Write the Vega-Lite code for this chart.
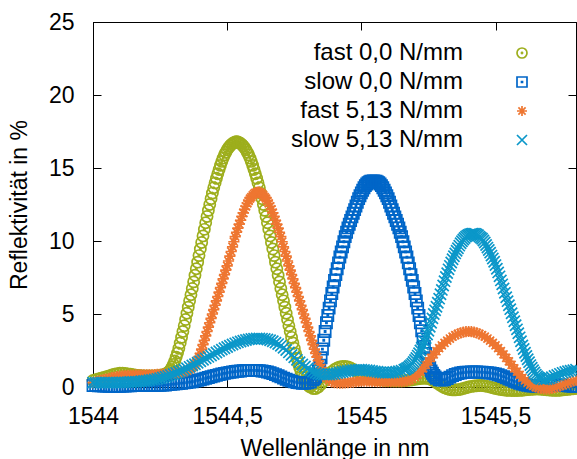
{
"$schema": "https://vega.github.io/schema/vega-lite/v6.json",
"width": 483, "height": 365,
"autosize": {"type": "none"},
"padding": {"left": 93, "top": 22, "right": 1, "bottom": 72},
"datasets": {
"fast0": [
{"x":1544.00,"y":0.45},{"x":1544.01,"y":0.5},{"x":1544.02,"y":0.55},{"x":1544.03,"y":0.6},{"x":1544.04,"y":0.65},{"x":1544.05,"y":0.7},{"x":1544.06,"y":0.76},{"x":1544.07,"y":0.82},{"x":1544.08,"y":0.87},{"x":1544.09,"y":0.91},
{"x":1544.10,"y":0.94},{"x":1544.11,"y":0.95},{"x":1544.12,"y":0.93},{"x":1544.13,"y":0.9},{"x":1544.14,"y":0.87},{"x":1544.15,"y":0.84},{"x":1544.16,"y":0.81},{"x":1544.17,"y":0.79},{"x":1544.18,"y":0.77},{"x":1544.19,"y":0.76},
{"x":1544.20,"y":0.75},{"x":1544.21,"y":0.75},{"x":1544.22,"y":0.75},{"x":1544.23,"y":0.76},{"x":1544.24,"y":0.77},{"x":1544.25,"y":0.8},{"x":1544.26,"y":0.84},{"x":1544.27,"y":0.9},{"x":1544.28,"y":1.0},{"x":1544.29,"y":1.2},
{"x":1544.30,"y":1.55},{"x":1544.31,"y":2.05},{"x":1544.32,"y":2.65},{"x":1544.33,"y":3.4},{"x":1544.34,"y":4.2},{"x":1544.35,"y":5.05},{"x":1544.36,"y":5.9},{"x":1544.37,"y":6.75},{"x":1544.38,"y":7.65},{"x":1544.39,"y":8.55},
{"x":1544.40,"y":9.45},{"x":1544.41,"y":10.35},{"x":1544.42,"y":11.25},{"x":1544.43,"y":12.1},{"x":1544.44,"y":12.9},{"x":1544.45,"y":13.65},{"x":1544.46,"y":14.3},{"x":1544.47,"y":14.9},{"x":1544.48,"y":15.45},{"x":1544.49,"y":15.9},
{"x":1544.50,"y":16.25},{"x":1544.51,"y":16.5},{"x":1544.52,"y":16.68},{"x":1544.53,"y":16.78},{"x":1544.54,"y":16.78},{"x":1544.55,"y":16.68},{"x":1544.56,"y":16.5},{"x":1544.57,"y":16.25},{"x":1544.58,"y":15.9},{"x":1544.59,"y":15.45},
{"x":1544.60,"y":14.9},{"x":1544.61,"y":14.3},{"x":1544.62,"y":13.65},{"x":1544.63,"y":12.9},{"x":1544.64,"y":12.1},{"x":1544.65,"y":11.25},{"x":1544.66,"y":10.35},{"x":1544.67,"y":9.45},{"x":1544.68,"y":8.55},{"x":1544.69,"y":7.65},
{"x":1544.70,"y":6.75},{"x":1544.71,"y":5.9},{"x":1544.72,"y":5.05},{"x":1544.73,"y":4.2},{"x":1544.74,"y":3.4},{"x":1544.75,"y":2.65},{"x":1544.76,"y":1.95},{"x":1544.77,"y":1.35},{"x":1544.78,"y":0.85},{"x":1544.79,"y":0.45},
{"x":1544.80,"y":0.15},{"x":1544.81,"y":0.0},{"x":1544.82,"y":-0.1},{"x":1544.83,"y":-0.1},{"x":1544.84,"y":0.0},{"x":1544.85,"y":0.2},{"x":1544.86,"y":0.4},{"x":1544.87,"y":0.65},{"x":1544.88,"y":0.85},{"x":1544.89,"y":1.05},
{"x":1544.90,"y":1.2},{"x":1544.91,"y":1.3},{"x":1544.92,"y":1.38},{"x":1544.93,"y":1.4},{"x":1544.94,"y":1.4},{"x":1544.95,"y":1.38},{"x":1544.96,"y":1.3},{"x":1544.97,"y":1.2},{"x":1544.98,"y":1.1},{"x":1544.99,"y":1.0},
{"x":1545.00,"y":0.9},{"x":1545.01,"y":0.8},{"x":1545.02,"y":0.72},{"x":1545.03,"y":0.65},{"x":1545.04,"y":0.6},{"x":1545.05,"y":0.56},{"x":1545.06,"y":0.52},{"x":1545.07,"y":0.49},{"x":1545.08,"y":0.47},{"x":1545.09,"y":0.45},
{"x":1545.10,"y":0.44},{"x":1545.11,"y":0.43},{"x":1545.12,"y":0.42},{"x":1545.13,"y":0.42},{"x":1545.14,"y":0.42},{"x":1545.15,"y":0.42},{"x":1545.16,"y":0.43},{"x":1545.17,"y":0.45},{"x":1545.18,"y":0.47},{"x":1545.19,"y":0.5},
{"x":1545.20,"y":0.53},{"x":1545.21,"y":0.56},{"x":1545.22,"y":0.58},{"x":1545.23,"y":0.6},{"x":1545.24,"y":0.6},{"x":1545.25,"y":0.58},{"x":1545.26,"y":0.52},{"x":1545.27,"y":0.42},{"x":1545.28,"y":0.3},{"x":1545.29,"y":0.18},
{"x":1545.30,"y":0.05},{"x":1545.31,"y":-0.05},{"x":1545.32,"y":-0.12},{"x":1545.33,"y":-0.17},{"x":1545.34,"y":-0.2},{"x":1545.35,"y":-0.2},{"x":1545.36,"y":-0.18},{"x":1545.37,"y":-0.15},{"x":1545.38,"y":-0.1},{"x":1545.39,"y":-0.05},
{"x":1545.40,"y":0.0},{"x":1545.41,"y":0.04},{"x":1545.42,"y":0.07},{"x":1545.43,"y":0.09},{"x":1545.44,"y":0.1},{"x":1545.45,"y":0.1},{"x":1545.46,"y":0.08},{"x":1545.47,"y":0.04},{"x":1545.48,"y":0.0},{"x":1545.49,"y":-0.05},
{"x":1545.50,"y":-0.1},{"x":1545.51,"y":-0.14},{"x":1545.52,"y":-0.17},{"x":1545.53,"y":-0.2},{"x":1545.54,"y":-0.22},{"x":1545.55,"y":-0.23},{"x":1545.56,"y":-0.24},{"x":1545.57,"y":-0.24},{"x":1545.58,"y":-0.24},{"x":1545.59,"y":-0.23},
{"x":1545.60,"y":-0.22},{"x":1545.61,"y":-0.2},{"x":1545.62,"y":-0.18},{"x":1545.63,"y":-0.16},{"x":1545.64,"y":-0.15},{"x":1545.65,"y":-0.14},{"x":1545.66,"y":-0.14},{"x":1545.67,"y":-0.15},{"x":1545.68,"y":-0.17},{"x":1545.69,"y":-0.19},
{"x":1545.70,"y":-0.21},{"x":1545.71,"y":-0.22},{"x":1545.72,"y":-0.23},{"x":1545.73,"y":-0.23},{"x":1545.74,"y":-0.22},{"x":1545.75,"y":-0.2},{"x":1545.76,"y":-0.18},{"x":1545.77,"y":-0.16},{"x":1545.78,"y":-0.14},{"x":1545.79,"y":-0.12},
{"x":1545.80,"y":-0.1},
{"x":1544.285,"y":1.08},{"x":1544.295,"y":1.36},{"x":1544.305,"y":1.78},{"x":1544.315,"y":2.33},{"x":1544.325,"y":3.01},{"x":1544.335,"y":3.8},{"x":1544.345,"y":4.62},{"x":1544.355,"y":5.47},{"x":1544.365,"y":6.32},{"x":1544.375,"y":7.2},
{"x":1544.385,"y":8.1},{"x":1544.395,"y":9.0},{"x":1544.405,"y":9.9},{"x":1544.415,"y":10.8},{"x":1544.425,"y":11.68},{"x":1544.435,"y":12.5},{"x":1544.445,"y":13.28},{"x":1544.455,"y":13.98},{"x":1544.465,"y":14.61},{"x":1544.475,"y":15.18},
{"x":1544.485,"y":15.68},{"x":1544.495,"y":16.08},{"x":1544.505,"y":16.39},{"x":1544.515,"y":16.6},{"x":1544.525,"y":16.74},{"x":1544.535,"y":16.8},{"x":1544.545,"y":16.74},{"x":1544.555,"y":16.6},{"x":1544.565,"y":16.39},{"x":1544.575,"y":16.08},
{"x":1544.585,"y":15.68},{"x":1544.595,"y":15.18},{"x":1544.605,"y":14.61},{"x":1544.615,"y":13.98},{"x":1544.625,"y":13.28},{"x":1544.635,"y":12.5},{"x":1544.645,"y":11.68},{"x":1544.655,"y":10.8},{"x":1544.665,"y":9.9},{"x":1544.675,"y":9.0},
{"x":1544.685,"y":8.1},{"x":1544.695,"y":7.2},{"x":1544.705,"y":6.32},{"x":1544.715,"y":5.47},{"x":1544.725,"y":4.62},{"x":1544.735,"y":3.8},{"x":1544.745,"y":3.02},{"x":1544.755,"y":2.29},{"x":1544.765,"y":1.63},{"x":1544.775,"y":1.08},
{"x":1544.785,"y":0.63},{"x":1544.795,"y":0.28},{"x":1544.805,"y":0.06}
],
"slow0": [
{"x":1544.00,"y":0.1},{"x":1544.01,"y":0.1},{"x":1544.02,"y":0.09},{"x":1544.03,"y":0.08},{"x":1544.04,"y":0.07},{"x":1544.05,"y":0.06},{"x":1544.06,"y":0.05},{"x":1544.07,"y":0.05},{"x":1544.08,"y":0.05},{"x":1544.09,"y":0.05},
{"x":1544.10,"y":0.05},{"x":1544.11,"y":0.06},{"x":1544.12,"y":0.07},{"x":1544.13,"y":0.08},{"x":1544.14,"y":0.09},{"x":1544.15,"y":0.1},{"x":1544.16,"y":0.1},{"x":1544.17,"y":0.1},{"x":1544.18,"y":0.1},{"x":1544.19,"y":0.1},
{"x":1544.20,"y":0.1},{"x":1544.21,"y":0.1},{"x":1544.22,"y":0.1},{"x":1544.23,"y":0.1},{"x":1544.24,"y":0.11},{"x":1544.25,"y":0.12},{"x":1544.26,"y":0.13},{"x":1544.27,"y":0.14},{"x":1544.28,"y":0.16},{"x":1544.29,"y":0.18},
{"x":1544.30,"y":0.2},{"x":1544.31,"y":0.22},{"x":1544.32,"y":0.24},{"x":1544.33,"y":0.26},{"x":1544.34,"y":0.28},{"x":1544.35,"y":0.3},{"x":1544.36,"y":0.33},{"x":1544.37,"y":0.36},{"x":1544.38,"y":0.4},{"x":1544.39,"y":0.45},
{"x":1544.40,"y":0.5},{"x":1544.41,"y":0.55},{"x":1544.42,"y":0.6},{"x":1544.43,"y":0.65},{"x":1544.44,"y":0.7},{"x":1544.45,"y":0.75},{"x":1544.46,"y":0.8},{"x":1544.47,"y":0.85},{"x":1544.48,"y":0.89},{"x":1544.49,"y":0.93},
{"x":1544.50,"y":0.97},{"x":1544.51,"y":1.0},{"x":1544.52,"y":1.03},{"x":1544.53,"y":1.06},{"x":1544.54,"y":1.08},{"x":1544.55,"y":1.1},{"x":1544.56,"y":1.12},{"x":1544.57,"y":1.13},{"x":1544.58,"y":1.14},{"x":1544.59,"y":1.14},
{"x":1544.60,"y":1.14},{"x":1544.61,"y":1.13},{"x":1544.62,"y":1.12},{"x":1544.63,"y":1.1},{"x":1544.64,"y":1.07},{"x":1544.65,"y":1.03},{"x":1544.66,"y":0.98},{"x":1544.67,"y":0.92},{"x":1544.68,"y":0.85},{"x":1544.69,"y":0.77},
{"x":1544.70,"y":0.69},{"x":1544.71,"y":0.61},{"x":1544.72,"y":0.53},{"x":1544.73,"y":0.46},{"x":1544.74,"y":0.4},{"x":1544.75,"y":0.35},{"x":1544.76,"y":0.31},{"x":1544.77,"y":0.28},{"x":1544.78,"y":0.26},{"x":1544.79,"y":0.26},
{"x":1544.80,"y":0.28},{"x":1544.81,"y":0.34},{"x":1544.82,"y":0.5},{"x":1544.83,"y":0.7},{"x":1544.84,"y":1.1},{"x":1544.85,"y":2.0},{"x":1544.86,"y":3.2},{"x":1544.87,"y":4.4},{"x":1544.88,"y":5.4},{"x":1544.89,"y":6.4},
{"x":1544.90,"y":7.3},{"x":1544.91,"y":8.1},{"x":1544.92,"y":8.9},{"x":1544.93,"y":9.6},{"x":1544.94,"y":10.3},{"x":1544.95,"y":10.9},{"x":1544.96,"y":11.4},{"x":1544.97,"y":11.9},{"x":1544.98,"y":12.4},{"x":1544.99,"y":12.9},
{"x":1545.00,"y":13.3},{"x":1545.01,"y":13.65},{"x":1545.02,"y":13.9},{"x":1545.03,"y":14.05},{"x":1545.04,"y":14.1},{"x":1545.05,"y":14.1},{"x":1545.06,"y":14.05},{"x":1545.07,"y":13.9},{"x":1545.08,"y":13.65},{"x":1545.09,"y":13.3},
{"x":1545.10,"y":12.9},{"x":1545.11,"y":12.4},{"x":1545.12,"y":11.9},{"x":1545.13,"y":11.4},{"x":1545.14,"y":10.9},{"x":1545.15,"y":10.3},{"x":1545.16,"y":9.6},{"x":1545.17,"y":8.9},{"x":1545.18,"y":8.1},{"x":1545.19,"y":7.3},
{"x":1545.20,"y":6.4},{"x":1545.21,"y":5.4},{"x":1545.22,"y":4.4},{"x":1545.23,"y":3.3},{"x":1545.24,"y":2.3},{"x":1545.25,"y":1.6},{"x":1545.26,"y":1.1},{"x":1545.27,"y":0.8},{"x":1545.28,"y":0.6},{"x":1545.29,"y":0.5},
{"x":1545.30,"y":0.48},{"x":1545.31,"y":0.5},{"x":1545.32,"y":0.58},{"x":1545.33,"y":0.68},{"x":1545.34,"y":0.78},{"x":1545.35,"y":0.86},{"x":1545.36,"y":0.92},{"x":1545.37,"y":0.96},{"x":1545.38,"y":0.99},{"x":1545.39,"y":1.01},
{"x":1545.40,"y":1.02},{"x":1545.41,"y":1.03},{"x":1545.42,"y":1.03},{"x":1545.43,"y":1.03},{"x":1545.44,"y":1.02},{"x":1545.45,"y":1.01},{"x":1545.46,"y":1.0},{"x":1545.47,"y":0.98},{"x":1545.48,"y":0.96},{"x":1545.49,"y":0.93},
{"x":1545.50,"y":0.89},{"x":1545.51,"y":0.84},{"x":1545.52,"y":0.78},{"x":1545.53,"y":0.71},{"x":1545.54,"y":0.63},{"x":1545.55,"y":0.55},{"x":1545.56,"y":0.47},{"x":1545.57,"y":0.39},{"x":1545.58,"y":0.32},{"x":1545.59,"y":0.26},
{"x":1545.60,"y":0.2},{"x":1545.61,"y":0.15},{"x":1545.62,"y":0.11},{"x":1545.63,"y":0.08},{"x":1545.64,"y":0.06},{"x":1545.65,"y":0.05},{"x":1545.66,"y":0.05},{"x":1545.67,"y":0.06},{"x":1545.68,"y":0.08},{"x":1545.69,"y":0.1},
{"x":1545.70,"y":0.12},{"x":1545.71,"y":0.13},{"x":1545.72,"y":0.14},{"x":1545.73,"y":0.14},{"x":1545.74,"y":0.13},{"x":1545.75,"y":0.12},{"x":1545.76,"y":0.1},{"x":1545.77,"y":0.08},{"x":1545.78,"y":0.06},{"x":1545.79,"y":0.05},
{"x":1545.80,"y":0.05},
{"x":1544.825,"y":0.58},{"x":1544.835,"y":0.87},{"x":1544.845,"y":1.5},{"x":1544.855,"y":2.6},{"x":1544.865,"y":3.8},{"x":1544.875,"y":4.9},{"x":1544.885,"y":5.9},{"x":1544.895,"y":6.85},{"x":1544.905,"y":7.7},{"x":1544.915,"y":8.5},
{"x":1544.925,"y":9.25},{"x":1544.935,"y":9.95},{"x":1544.945,"y":10.6},{"x":1544.955,"y":11.15},{"x":1544.965,"y":11.65},{"x":1544.975,"y":12.15},{"x":1544.985,"y":12.65},{"x":1544.995,"y":13.1},{"x":1545.005,"y":13.48},{"x":1545.015,"y":13.79},
{"x":1545.025,"y":13.99},{"x":1545.035,"y":14.09},{"x":1545.045,"y":14.12},{"x":1545.055,"y":14.09},{"x":1545.065,"y":13.99},{"x":1545.075,"y":13.79},{"x":1545.085,"y":13.48},{"x":1545.095,"y":13.1},{"x":1545.105,"y":12.65},{"x":1545.115,"y":12.15},
{"x":1545.125,"y":11.65},{"x":1545.135,"y":11.15},{"x":1545.145,"y":10.6},{"x":1545.155,"y":9.95},{"x":1545.165,"y":9.25},{"x":1545.175,"y":8.5},{"x":1545.185,"y":7.7},{"x":1545.195,"y":6.85},{"x":1545.205,"y":5.9},{"x":1545.215,"y":4.9},
{"x":1545.225,"y":3.85},{"x":1545.235,"y":2.78},{"x":1545.245,"y":1.92},{"x":1545.255,"y":1.33},{"x":1545.265,"y":0.94},{"x":1545.275,"y":0.69}
],
"fast5": [
{"x":1544.00,"y":0.3},{"x":1544.01,"y":0.35},{"x":1544.02,"y":0.4},{"x":1544.03,"y":0.45},{"x":1544.04,"y":0.5},{"x":1544.05,"y":0.55},{"x":1544.06,"y":0.6},{"x":1544.07,"y":0.64},{"x":1544.08,"y":0.68},{"x":1544.09,"y":0.71},
{"x":1544.10,"y":0.74},{"x":1544.11,"y":0.76},{"x":1544.12,"y":0.78},{"x":1544.13,"y":0.8},{"x":1544.14,"y":0.81},{"x":1544.15,"y":0.82},{"x":1544.16,"y":0.83},{"x":1544.17,"y":0.83},{"x":1544.18,"y":0.83},{"x":1544.19,"y":0.83},
{"x":1544.20,"y":0.83},{"x":1544.21,"y":0.83},{"x":1544.22,"y":0.84},{"x":1544.23,"y":0.85},{"x":1544.24,"y":0.86},{"x":1544.25,"y":0.87},{"x":1544.26,"y":0.88},{"x":1544.27,"y":0.89},{"x":1544.28,"y":0.9},{"x":1544.29,"y":0.92},
{"x":1544.30,"y":0.94},{"x":1544.31,"y":0.96},{"x":1544.32,"y":0.98},{"x":1544.33,"y":1.0},{"x":1544.34,"y":1.05},{"x":1544.35,"y":1.1},{"x":1544.36,"y":1.2},{"x":1544.37,"y":1.35},{"x":1544.38,"y":1.55},{"x":1544.39,"y":1.85},
{"x":1544.40,"y":2.3},{"x":1544.41,"y":2.9},{"x":1544.42,"y":3.5},{"x":1544.43,"y":4.1},{"x":1544.44,"y":4.7},{"x":1544.45,"y":5.3},{"x":1544.46,"y":5.9},{"x":1544.47,"y":6.5},{"x":1544.48,"y":7.1},{"x":1544.49,"y":7.7},
{"x":1544.50,"y":8.3},{"x":1544.51,"y":8.97},{"x":1544.52,"y":9.6},{"x":1544.53,"y":10.3},{"x":1544.54,"y":10.88},{"x":1544.55,"y":11.42},{"x":1544.56,"y":11.92},{"x":1544.57,"y":12.38},{"x":1544.58,"y":12.75},{"x":1544.59,"y":13.0},
{"x":1544.60,"y":13.22},{"x":1544.61,"y":13.33},{"x":1544.62,"y":13.33},{"x":1544.63,"y":13.22},{"x":1544.64,"y":13.0},{"x":1544.65,"y":12.75},{"x":1544.66,"y":12.38},{"x":1544.67,"y":11.92},{"x":1544.68,"y":11.42},{"x":1544.69,"y":10.88},
{"x":1544.70,"y":10.3},{"x":1544.71,"y":9.6},{"x":1544.72,"y":8.97},{"x":1544.73,"y":8.3},{"x":1544.74,"y":7.7},{"x":1544.75,"y":7.1},{"x":1544.76,"y":6.5},{"x":1544.77,"y":5.9},{"x":1544.78,"y":5.3},{"x":1544.79,"y":4.7},
{"x":1544.80,"y":4.1},{"x":1544.81,"y":3.5},{"x":1544.82,"y":2.9},{"x":1544.83,"y":2.3},{"x":1544.84,"y":1.8},{"x":1544.85,"y":1.3},{"x":1544.86,"y":0.95},{"x":1544.87,"y":0.65},{"x":1544.88,"y":0.45},{"x":1544.89,"y":0.35},
{"x":1544.90,"y":0.3},{"x":1544.91,"y":0.28},{"x":1544.92,"y":0.27},{"x":1544.93,"y":0.27},{"x":1544.94,"y":0.28},{"x":1544.95,"y":0.3},{"x":1544.96,"y":0.32},{"x":1544.97,"y":0.34},{"x":1544.98,"y":0.36},{"x":1544.99,"y":0.38},
{"x":1545.00,"y":0.4},{"x":1545.01,"y":0.4},{"x":1545.02,"y":0.4},{"x":1545.03,"y":0.4},{"x":1545.04,"y":0.39},{"x":1545.05,"y":0.38},{"x":1545.06,"y":0.37},{"x":1545.07,"y":0.36},{"x":1545.08,"y":0.36},{"x":1545.09,"y":0.36},
{"x":1545.10,"y":0.36},{"x":1545.11,"y":0.36},{"x":1545.12,"y":0.36},{"x":1545.13,"y":0.36},{"x":1545.14,"y":0.36},{"x":1545.15,"y":0.37},{"x":1545.16,"y":0.39},{"x":1545.17,"y":0.42},{"x":1545.18,"y":0.47},{"x":1545.19,"y":0.55},
{"x":1545.20,"y":0.68},{"x":1545.21,"y":0.85},{"x":1545.22,"y":1.05},{"x":1545.23,"y":1.28},{"x":1545.24,"y":1.52},{"x":1545.25,"y":1.76},{"x":1545.26,"y":2.0},{"x":1545.27,"y":2.23},{"x":1545.28,"y":2.45},{"x":1545.29,"y":2.66},
{"x":1545.30,"y":2.85},{"x":1545.31,"y":3.02},{"x":1545.32,"y":3.18},{"x":1545.33,"y":3.32},{"x":1545.34,"y":3.45},{"x":1545.35,"y":3.55},{"x":1545.36,"y":3.64},{"x":1545.37,"y":3.71},{"x":1545.38,"y":3.76},{"x":1545.39,"y":3.79},
{"x":1545.40,"y":3.8},{"x":1545.41,"y":3.79},{"x":1545.42,"y":3.76},{"x":1545.43,"y":3.71},{"x":1545.44,"y":3.64},{"x":1545.45,"y":3.55},{"x":1545.46,"y":3.45},{"x":1545.47,"y":3.32},{"x":1545.48,"y":3.18},{"x":1545.49,"y":3.02},
{"x":1545.50,"y":2.85},{"x":1545.51,"y":2.66},{"x":1545.52,"y":2.45},{"x":1545.53,"y":2.23},{"x":1545.54,"y":2.0},{"x":1545.55,"y":1.76},{"x":1545.56,"y":1.52},{"x":1545.57,"y":1.28},{"x":1545.58,"y":1.05},{"x":1545.59,"y":0.83},
{"x":1545.60,"y":0.62},{"x":1545.61,"y":0.45},{"x":1545.62,"y":0.3},{"x":1545.63,"y":0.17},{"x":1545.64,"y":0.08},{"x":1545.65,"y":0.0},{"x":1545.66,"y":-0.06},{"x":1545.67,"y":-0.1},{"x":1545.68,"y":-0.13},{"x":1545.69,"y":-0.14},
{"x":1545.70,"y":-0.13},{"x":1545.71,"y":-0.1},{"x":1545.72,"y":-0.05},{"x":1545.73,"y":0.01},{"x":1545.74,"y":0.08},{"x":1545.75,"y":0.15},{"x":1545.76,"y":0.22},{"x":1545.77,"y":0.29},{"x":1545.78,"y":0.35},{"x":1545.79,"y":0.41},
{"x":1545.80,"y":0.46},
{"x":1544.365,"y":1.27},{"x":1544.375,"y":1.44},{"x":1544.385,"y":1.68},{"x":1544.395,"y":2.05},{"x":1544.405,"y":2.6},{"x":1544.415,"y":3.2},{"x":1544.425,"y":3.8},{"x":1544.435,"y":4.4},{"x":1544.445,"y":5.0},{"x":1544.455,"y":5.6},
{"x":1544.465,"y":6.2},{"x":1544.475,"y":6.8},{"x":1544.485,"y":7.4},{"x":1544.495,"y":8.0},{"x":1544.505,"y":8.63},{"x":1544.515,"y":9.28},{"x":1544.525,"y":9.95},{"x":1544.535,"y":10.6},{"x":1544.545,"y":11.16},{"x":1544.555,"y":11.68},
{"x":1544.565,"y":12.16},{"x":1544.575,"y":12.58},{"x":1544.585,"y":12.9},{"x":1544.595,"y":13.13},{"x":1544.605,"y":13.3},{"x":1544.615,"y":13.35},{"x":1544.625,"y":13.3},{"x":1544.635,"y":13.13},{"x":1544.645,"y":12.9},{"x":1544.655,"y":12.58},
{"x":1544.665,"y":12.16},{"x":1544.675,"y":11.68},{"x":1544.685,"y":11.16},{"x":1544.695,"y":10.6},{"x":1544.705,"y":9.95},{"x":1544.715,"y":9.28},{"x":1544.725,"y":8.63},{"x":1544.735,"y":8.0},{"x":1544.745,"y":7.4},{"x":1544.755,"y":6.8},
{"x":1544.765,"y":6.2},{"x":1544.775,"y":5.6},{"x":1544.785,"y":5.0},{"x":1544.795,"y":4.4},{"x":1544.805,"y":3.8},{"x":1544.815,"y":3.2},{"x":1544.825,"y":2.6},{"x":1544.835,"y":2.04},{"x":1544.845,"y":1.53},{"x":1544.855,"y":1.1},
{"x":1544.865,"y":0.78}
],
"slow5": [
{"x":1544.00,"y":0.3},{"x":1544.01,"y":0.3},{"x":1544.02,"y":0.3},{"x":1544.03,"y":0.3},{"x":1544.04,"y":0.3},{"x":1544.05,"y":0.3},{"x":1544.06,"y":0.3},{"x":1544.07,"y":0.3},{"x":1544.08,"y":0.3},{"x":1544.09,"y":0.3},
{"x":1544.10,"y":0.31},{"x":1544.11,"y":0.31},{"x":1544.12,"y":0.32},{"x":1544.13,"y":0.33},{"x":1544.14,"y":0.34},{"x":1544.15,"y":0.35},{"x":1544.16,"y":0.36},{"x":1544.17,"y":0.37},{"x":1544.18,"y":0.39},{"x":1544.19,"y":0.41},
{"x":1544.20,"y":0.43},{"x":1544.21,"y":0.46},{"x":1544.22,"y":0.49},{"x":1544.23,"y":0.52},{"x":1544.24,"y":0.56},{"x":1544.25,"y":0.6},{"x":1544.26,"y":0.65},{"x":1544.27,"y":0.7},{"x":1544.28,"y":0.76},{"x":1544.29,"y":0.82},
{"x":1544.30,"y":0.89},{"x":1544.31,"y":0.96},{"x":1544.32,"y":1.04},{"x":1544.33,"y":1.12},{"x":1544.34,"y":1.2},{"x":1544.35,"y":1.29},{"x":1544.36,"y":1.38},{"x":1544.37,"y":1.47},{"x":1544.38,"y":1.56},{"x":1544.39,"y":1.66},
{"x":1544.40,"y":1.76},{"x":1544.41,"y":1.86},{"x":1544.42,"y":1.96},{"x":1544.43,"y":2.06},{"x":1544.44,"y":2.16},{"x":1544.45,"y":2.26},{"x":1544.46,"y":2.36},{"x":1544.47,"y":2.46},{"x":1544.48,"y":2.56},{"x":1544.49,"y":2.65},
{"x":1544.50,"y":2.74},{"x":1544.51,"y":2.83},{"x":1544.52,"y":2.91},{"x":1544.53,"y":2.99},{"x":1544.54,"y":3.06},{"x":1544.55,"y":3.12},{"x":1544.56,"y":3.17},{"x":1544.57,"y":3.22},{"x":1544.58,"y":3.26},{"x":1544.59,"y":3.29},
{"x":1544.60,"y":3.31},{"x":1544.61,"y":3.32},{"x":1544.62,"y":3.32},{"x":1544.63,"y":3.31},{"x":1544.64,"y":3.29},{"x":1544.65,"y":3.25},{"x":1544.66,"y":3.2},{"x":1544.67,"y":3.13},{"x":1544.68,"y":3.04},{"x":1544.69,"y":2.94},
{"x":1544.70,"y":2.82},{"x":1544.71,"y":2.68},{"x":1544.72,"y":2.53},{"x":1544.73,"y":2.37},{"x":1544.74,"y":2.2},{"x":1544.75,"y":2.03},{"x":1544.76,"y":1.86},{"x":1544.77,"y":1.7},{"x":1544.78,"y":1.54},{"x":1544.79,"y":1.4},
{"x":1544.80,"y":1.27},{"x":1544.81,"y":1.15},{"x":1544.82,"y":1.05},{"x":1544.83,"y":0.97},{"x":1544.84,"y":0.91},{"x":1544.85,"y":0.87},{"x":1544.86,"y":0.85},{"x":1544.87,"y":0.85},{"x":1544.88,"y":0.86},{"x":1544.89,"y":0.88},
{"x":1544.90,"y":0.91},{"x":1544.91,"y":0.95},{"x":1544.92,"y":0.99},{"x":1544.93,"y":1.03},{"x":1544.94,"y":1.07},{"x":1544.95,"y":1.1},{"x":1544.96,"y":1.13},{"x":1544.97,"y":1.15},{"x":1544.98,"y":1.17},{"x":1544.99,"y":1.18},
{"x":1545.00,"y":1.18},{"x":1545.01,"y":1.17},{"x":1545.02,"y":1.15},{"x":1545.03,"y":1.13},{"x":1545.04,"y":1.1},{"x":1545.05,"y":1.07},{"x":1545.06,"y":1.04},{"x":1545.07,"y":1.01},{"x":1545.08,"y":0.99},{"x":1545.09,"y":0.98},
{"x":1545.10,"y":0.98},{"x":1545.11,"y":0.99},{"x":1545.12,"y":1.01},{"x":1545.13,"y":1.04},{"x":1545.14,"y":1.08},{"x":1545.15,"y":1.12},{"x":1545.16,"y":1.18},{"x":1545.17,"y":1.28},{"x":1545.18,"y":1.42},{"x":1545.19,"y":1.6},
{"x":1545.20,"y":1.85},{"x":1545.21,"y":2.15},{"x":1545.22,"y":2.5},{"x":1545.23,"y":2.9},{"x":1545.24,"y":3.35},{"x":1545.25,"y":3.85},{"x":1545.26,"y":4.4},{"x":1545.27,"y":5.0},{"x":1545.28,"y":5.5},{"x":1545.29,"y":6.05},
{"x":1545.30,"y":6.65},{"x":1545.31,"y":7.25},{"x":1545.32,"y":7.8},{"x":1545.33,"y":8.3},{"x":1545.34,"y":8.75},{"x":1545.35,"y":9.15},{"x":1545.36,"y":9.5},{"x":1545.37,"y":9.85},{"x":1545.38,"y":10.1},{"x":1545.39,"y":10.3},
{"x":1545.40,"y":10.42},{"x":1545.41,"y":10.48},{"x":1545.42,"y":10.5},{"x":1545.43,"y":10.45},{"x":1545.44,"y":10.3},{"x":1545.45,"y":10.15},{"x":1545.46,"y":9.9},{"x":1545.47,"y":9.55},{"x":1545.48,"y":9.2},{"x":1545.49,"y":8.8},
{"x":1545.50,"y":8.35},{"x":1545.51,"y":7.85},{"x":1545.52,"y":7.3},{"x":1545.53,"y":6.75},{"x":1545.54,"y":6.15},{"x":1545.55,"y":5.6},{"x":1545.56,"y":5.05},{"x":1545.57,"y":4.5},{"x":1545.58,"y":3.95},{"x":1545.59,"y":3.4},
{"x":1545.60,"y":2.85},{"x":1545.61,"y":2.35},{"x":1545.62,"y":1.9},{"x":1545.63,"y":1.5},{"x":1545.64,"y":1.15},{"x":1545.65,"y":0.85},{"x":1545.66,"y":0.65},{"x":1545.67,"y":0.55},{"x":1545.68,"y":0.52},{"x":1545.69,"y":0.54},
{"x":1545.70,"y":0.6},{"x":1545.71,"y":0.67},{"x":1545.72,"y":0.75},{"x":1545.73,"y":0.83},{"x":1545.74,"y":0.9},{"x":1545.75,"y":0.97},{"x":1545.76,"y":1.03},{"x":1545.77,"y":1.08},{"x":1545.78,"y":1.12},{"x":1545.79,"y":1.15},
{"x":1545.80,"y":1.18},
{"x":1545.165,"y":1.22},{"x":1545.175,"y":1.34},{"x":1545.185,"y":1.5},{"x":1545.195,"y":1.71},{"x":1545.205,"y":1.99},{"x":1545.215,"y":2.32},{"x":1545.225,"y":2.69},{"x":1545.235,"y":3.12},{"x":1545.245,"y":3.6},{"x":1545.255,"y":4.12},
{"x":1545.265,"y":4.7},{"x":1545.275,"y":5.25},{"x":1545.285,"y":5.77},{"x":1545.295,"y":6.35},{"x":1545.305,"y":6.95},{"x":1545.315,"y":7.53},{"x":1545.325,"y":8.06},{"x":1545.335,"y":8.53},{"x":1545.345,"y":8.96},{"x":1545.355,"y":9.33},
{"x":1545.365,"y":9.68},{"x":1545.375,"y":9.98},{"x":1545.385,"y":10.21},{"x":1545.395,"y":10.37},{"x":1545.405,"y":10.46},{"x":1545.415,"y":10.5},{"x":1545.425,"y":10.49},{"x":1545.435,"y":10.39},{"x":1545.445,"y":10.23},{"x":1545.455,"y":10.03},
{"x":1545.465,"y":9.73},{"x":1545.475,"y":9.38},{"x":1545.485,"y":9.0},{"x":1545.495,"y":8.58},{"x":1545.505,"y":8.1},{"x":1545.515,"y":7.58},{"x":1545.525,"y":7.03},{"x":1545.535,"y":6.45},{"x":1545.545,"y":5.88},{"x":1545.555,"y":5.33},
{"x":1545.565,"y":4.78},{"x":1545.575,"y":4.23},{"x":1545.585,"y":3.68},{"x":1545.595,"y":3.13},{"x":1545.605,"y":2.6},{"x":1545.615,"y":2.12},{"x":1545.625,"y":1.7},{"x":1545.635,"y":1.32},{"x":1545.645,"y":0.99},{"x":1545.655,"y":0.74},
{"x":1545.665,"y":0.59}
]
},
"layer": [
{
"encoding": {
"x": {"field": "x", "type": "quantitative", "scale": {"domain": [1544, 1545.8], "nice": false, "zero": false},
 "axis": {"title": "Wellenlänge in nm", "values": [1544, 1544.5, 1545, 1545.5], "labelExpr": "replace(format(datum.value, '.1~f'), '.', ',')", "labelPadding": 26, "titlePadding": 9, "labelFlush": false, "labelOverlap": false}},
"y": {"field": "y", "type": "quantitative", "scale": {"domain": [0, 25], "nice": false, "zero": false},
 "axis": {"title": "Reflektivität in %", "values": [0, 5, 10, 15, 20, 25], "labelPadding": 27, "titlePadding": 17, "labelFlush": false, "labelOverlap": false}}
},
"layer": [
{"data": {"name": "fast0"}, "mark": {"type": "point"},
 "encoding": {
  "color": {"datum": "fast 0,0 N/mm", "type": "nominal", "scale": {"domain": ["fast 0,0 N/mm", "slow 0,0 N/mm", "fast 5,13 N/mm", "slow 5,13 N/mm"], "range": ["#9dae1c", "#0066c8", "#ee7631", "#0b97c9"]}},
  "shape": {"datum": "fast 0,0 N/mm", "type": "nominal", "scale": {"domain": ["fast 0,0 N/mm", "slow 0,0 N/mm", "fast 5,13 N/mm", "slow 5,13 N/mm"], "range": ["M1,0A1,1,0,1,1,-1,0A1,1,0,1,1,1,0ZM0.12,0A0.12,0.12,0,1,1,-0.12,0A0.12,0.12,0,1,1,0.12,0Z", "M-1,-1H1V1H-1ZM-0.1,-0.1H0.1V0.1H-0.1Z", "M-1,0H1M0,-1V1M-0.72,-0.72L0.72,0.72M-0.72,0.72L0.72,-0.72", "M-1,-1L1,1M-1,1L1,-1"]}}
 }},
{"data": {"name": "slow0"}, "mark": {"type": "point"},
 "encoding": {"color": {"datum": "slow 0,0 N/mm", "type": "nominal"}, "shape": {"datum": "slow 0,0 N/mm", "type": "nominal"}}},
{"data": {"name": "fast5"}, "mark": {"type": "point"},
 "encoding": {"color": {"datum": "fast 5,13 N/mm", "type": "nominal"}, "shape": {"datum": "fast 5,13 N/mm", "type": "nominal"}}},
{"data": {"name": "slow5"}, "mark": {"type": "point"},
 "encoding": {"color": {"datum": "slow 5,13 N/mm", "type": "nominal"}, "shape": {"datum": "slow 5,13 N/mm", "type": "nominal"}}}
]
},
{
"data": {"values": [{"x": 1544, "y": 0}]},
"mark": {"type": "point", "opacity": 0},
"encoding": {
"x": {"field": "x", "type": "quantitative", "scale": {"domain": [1544, 1545.8], "nice": false, "zero": false},
 "axis": {"orient": "top", "title": null, "labels": false, "values": [1544, 1544.5, 1545, 1545.5]}},
"y": {"field": "y", "type": "quantitative", "scale": {"domain": [0, 25], "nice": false, "zero": false},
 "axis": {"orient": "right", "title": null, "labels": false, "values": [0, 5, 10, 15, 20, 25]}}
}
}
],
"resolve": {"scale": {"x": "independent", "y": "independent"}},
"config": {
"background": "white",
"view": {"stroke": "black", "strokeWidth": 1},
"point": {"filled": false, "opacity": 1, "size": 125, "strokeWidth": 1.7},
"axis": {"grid": false, "domainColor": "black", "domainWidth": 1, "tickColor": "black", "tickSize": -8, "tickWidth": 1,
 "labelFont": "Liberation Sans", "labelFontSize": 23, "labelColor": "black",
 "titleFont": "Liberation Sans", "titleFontSize": 23, "titleFontWeight": "normal", "titleColor": "black"},
"legend": {"orient": "none", "legendX": 417, "legendY": 19, "title": null, "padding": 0,
 "labelAlign": "right", "labelOffset": -71, "labelFont": "Liberation Sans", "labelFontSize": 24, "labelColor": "black", "labelLimit": 300,
 "symbolSize": 100, "symbolStrokeWidth": 1.6, "rowPadding": 5}
}
}
